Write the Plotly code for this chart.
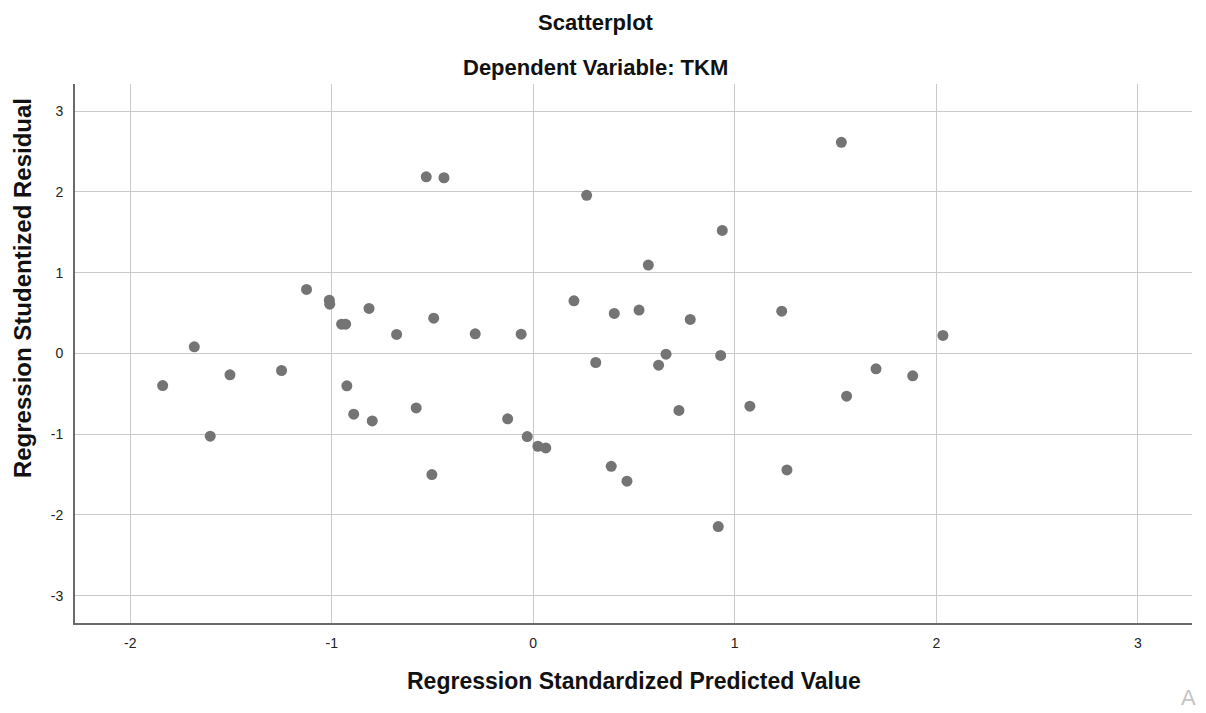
import plotly.graph_objects as go

# Regression Standardized Predicted Value (x) and Studentized Residual (y)
pred = [-0.531, -0.443, -1.125, -1.012, -1.010, -0.815, -0.951, -0.931, -0.678, -0.494,
        -0.288, -0.060, -1.682,
        -1.839, -1.505, -1.249, -1.603, -0.925, -0.891, -0.799, -0.581, -0.503, -0.127,
        -0.030, 0.023, 0.062,
        1.529, 0.265, 0.938, 0.571, 0.202, 0.402, 0.525, 0.779, 1.233, 2.033,
        0.310, 0.659, 0.622, 0.930, 1.701, 1.883,
        0.723, 1.075, 1.555, 0.387, 0.465, 1.259, 0.918]
resid = [2.188, 2.176, 0.793, 0.660, 0.610, 0.557, 0.363, 0.363, 0.235, 0.437,
         0.243, 0.239, 0.082,
         -0.397, -0.265, -0.211, -1.025, -0.401, -0.752, -0.835, -0.674, -1.500, -0.810,
         -1.029, -1.149, -1.170,
         2.615, 1.958, 1.524, 1.094, 0.652, 0.496, 0.537, 0.421, 0.524, 0.223,
         -0.112, -0.009, -0.145, -0.025, -0.190, -0.277,
         -0.706, -0.653, -0.529, -1.397, -1.582, -1.442, -2.144]

x_ticks = [-2, -1, 0, 1, 2, 3]
y_ticks = [-3, -2, -1, 0, 1, 2, 3]

title_text = "Scatterplot"
subtitle_text = "Dependent Variable: TKM"
x_title = "Regression Standardized Predicted Value"
y_title = "Regression Studentized Residual"

FONT = "Liberation Sans, Arial, sans-serif"

fig = go.Figure(go.Scatter(
    x=pred, y=resid, mode="markers",
    marker=dict(size=11, color="#747474", line=dict(width=0)),
    hoverinfo="x+y",
))

fig.update_layout(
    width=1198, height=705,
    margin=dict(l=67, r=14, t=76, b=90),
    paper_bgcolor="white", plot_bgcolor="white",
    showlegend=False,
    font=dict(family=FONT, color="#222222"),
    xaxis=dict(
        range=[-2.274, 3.269], tickvals=x_ticks, ticktext=[str(v) for v in x_ticks],
        showgrid=True, gridcolor="#c9c9c9", gridwidth=1.3,
        zeroline=False, showline=True, linecolor="#6a6a6a", linewidth=2,
        ticks="", ticklabelstandoff=6,
        tickfont=dict(size=14, color="#222222", family=FONT),
    ),
    yaxis=dict(
        range=[-3.338, 3.337], tickvals=y_ticks, ticktext=[str(v) for v in y_ticks],
        showgrid=True, gridcolor="#c9c9c9", gridwidth=1.3,
        zeroline=False, showline=True, linecolor="#6a6a6a", linewidth=2,
        ticks="", ticklabelstandoff=7,
        tickfont=dict(size=14, color="#222222", family=FONT),
    ),
    annotations=[
        dict(text="<b>" + title_text + "</b>", xref="paper", yref="paper",
             x=0.4664, y=1.1132, xanchor="center", yanchor="middle", showarrow=False,
             font=dict(size=22, color="#111111", family=FONT)),
        dict(text="<b>" + subtitle_text + "</b>", xref="paper", yref="paper",
             x=0.4664, y=1.0315, xanchor="center", yanchor="middle", showarrow=False,
             font=dict(size=22, color="#111111", family=FONT)),
        dict(text="<b>" + x_title + "</b>", xref="paper", yref="paper",
             x=0.5, y=-0.1076, xanchor="center", yanchor="middle", showarrow=False,
             font=dict(size=23, color="#111111", family=FONT)),
        dict(text="<b>" + y_title + "</b>", xref="paper", yref="paper",
             x=-0.0474, y=0.6215, xanchor="center", yanchor="middle", showarrow=False,
             textangle=-90, font=dict(size=24, color="#111111", family=FONT)),
        dict(text="A", xref="paper", yref="paper",
             x=0.988, y=-0.1373, xanchor="left", yanchor="middle", showarrow=False,
             font=dict(size=22, color="#c4c4c4", family=FONT)),
    ],
)

fig.write_html("out.html")
